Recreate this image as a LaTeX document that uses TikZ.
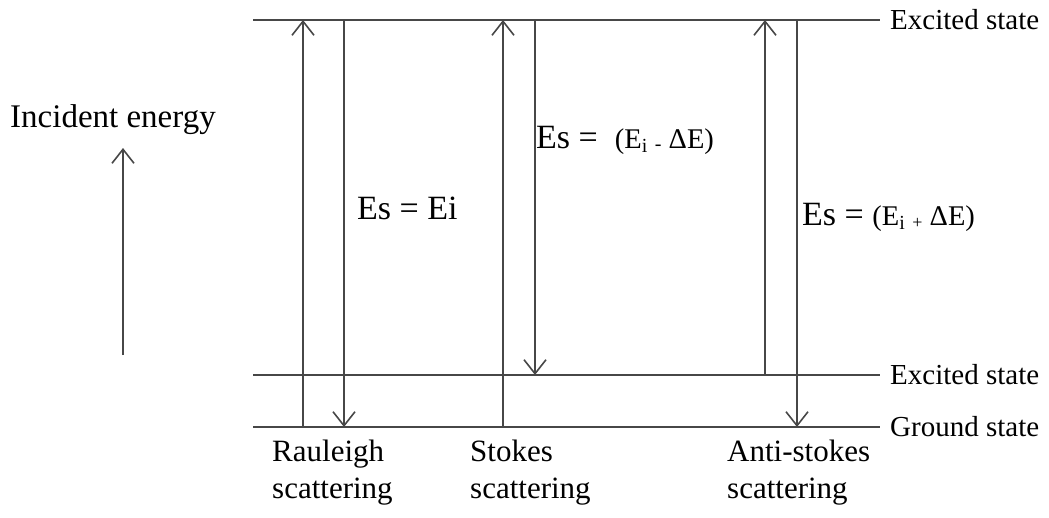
\documentclass[tikz,border=0pt]{standalone}
\usepackage{fontspec}
\setmainfont{Liberation Serif}
\usetikzlibrary{arrows.meta}
\begin{document}
\begin{tikzpicture}[x=1pt,y=-1pt,
  level/.style={line width=1.7pt,draw=black!72},
  trans/.style={line width=1.7pt,draw=black!72,-{Straight Barb[length=14pt,width=22pt,line width=1.6pt]}},
  lbl/.style={font=\fontsize{29}{32}\selectfont,anchor=west,inner sep=0pt},
  bot/.style={font=\fontsize{31}{37}\selectfont,anchor=north west,align=left,inner sep=0pt},
  eq/.style={anchor=west,inner sep=0pt}]
\useasboundingbox (0,0) rectangle (1049,517);
% levels
\coordinate (t0) at (253,20);  \coordinate (t1) at (880,20);
\coordinate (m0) at (253,375); \coordinate (m1) at (880,375);
\coordinate (g0) at (253,427); \coordinate (g1) at (880,427);
\draw[level] (t0) -- (t1);
\draw[level] (m0) -- (m1);
\draw[level] (g0) -- (g1);
\node[lbl] (lt) at (890,20) {Excited state};
\node[lbl] (lm) at (890,375) {Excited state};
\node[lbl] (lg) at (890,427) {Ground state};
% Rayleigh
\coordinate (r1b) at (303,427); \coordinate (r1t) at (303,20);
\coordinate (r2t) at (344,20);  \coordinate (r2b) at (344,427);
\draw[trans] (r1b) -- (r1t);
\draw[trans] (r2t) -- (r2b);
% Stokes
\coordinate (s1b) at (503,427); \coordinate (s1t) at (503,20);
\coordinate (s2t) at (535,20);  \coordinate (s2b) at (535,375);
\draw[trans] (s1b) -- (s1t);
\draw[trans] (s2t) -- (s2b);
% Anti-Stokes
\coordinate (a1b) at (765,375); \coordinate (a1t) at (765,20);
\coordinate (a2t) at (797,20);  \coordinate (a2b) at (797,427);
\draw[trans] (a1b) -- (a1t);
\draw[trans] (a2t) -- (a2b);
% incident energy
\node[font=\fontsize{33}{36}\selectfont,anchor=west,inner sep=0pt] (inc) at (10,120) {Incident energy};
\coordinate (ib) at (123,355); \coordinate (it) at (123,148);
\draw[trans] (ib) -- (it);
% equations
\node[eq] (e1) at (357,208) {\fontsize{34}{36}\selectfont Es = Ei};
\node[eq] (e2) at (536,140) {\fontsize{34}{36}\selectfont Es =\ \ \fontsize{28.5}{30}\selectfont(E\textsubscript{i} \raisebox{-2pt}{\fontsize{20}{20}\selectfont -} ΔE)};
\node[eq] (e3) at (802,217) {\fontsize{34}{36}\selectfont Es = \fontsize{28.5}{30}\selectfont(E\textsubscript{i} \raisebox{-3pt}{\fontsize{18}{18}\selectfont +} ΔE)};
% bottom labels
\node[bot] (b1) at (272,440) {Rauleigh\\scattering};
\node[bot] (b2) at (470,440) {Stokes\\scattering};
\node[bot] (b3) at (727,440) {Anti-stokes\\scattering};
\end{tikzpicture}
\end{document}
